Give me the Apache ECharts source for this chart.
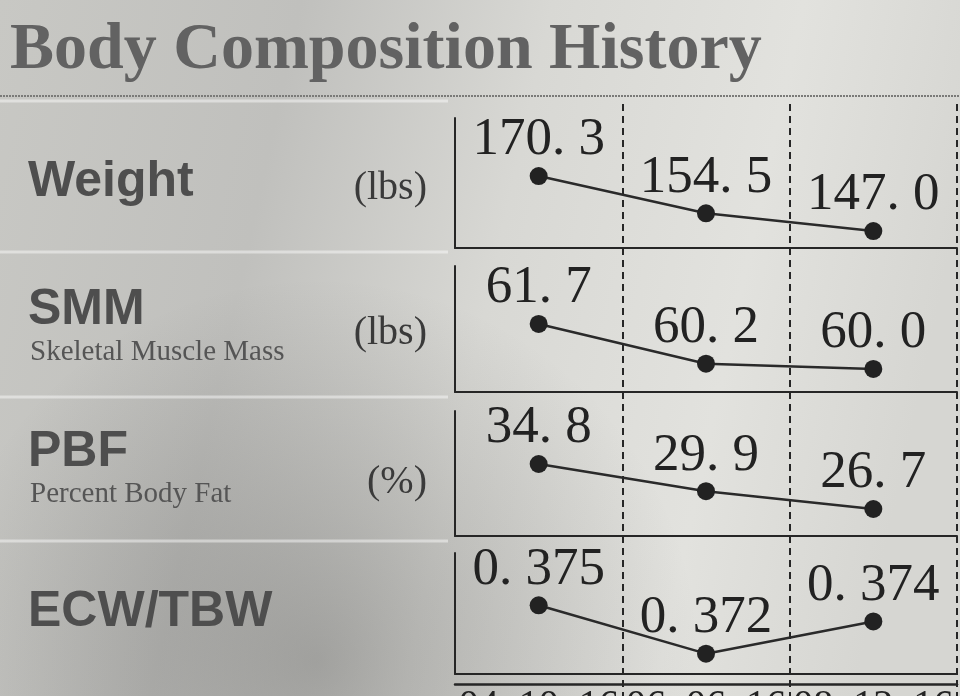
<!DOCTYPE html>
<html>
<head>
<meta charset="utf-8">
<script src="https://cdn.jsdelivr.net/npm/echarts@6/dist/echarts.min.js"></script>
<style>html,body{margin:0;padding:0;}#c{width:960px;height:696px;}</style>
</head>
<body>
<div id="c"></div>
<script>
// ---- data ----
const dates = ['04. 10. 16', '06. 06. 16', '08. 12. 16'];
const weight = [170.3, 154.5, 147.0];
const smm = [61.7, 60.2, 60.0];
const pbf = [34.8, 29.9, 26.7];
const ecwTbw = [0.375, 0.372, 0.374];
const rowNames = ['Weight', 'SMM', 'PBF', 'ECW/TBW'];
const rowSubtitles = ['', 'Skeletal Muscle Mass', 'Percent Body Fat', ''];
const rowUnits = ['(lbs)', '(lbs)', '(%)', ''];
const rowDecimals = [1, 1, 1, 3];
const rowMin = [139.8, 59.13, 21.84, 0.37074];
const rowMax = [194.9, 63.89, 44.34, 0.37824];

// ---- layout ----
const series = [weight, smm, pbf, ecwTbw];
const panels = [
  {top: 118, height: 130},
  {top: 266, height: 126},
  {top: 411, height: 125},
  {top: 553, height: 121}
];
const plotLeft = 455, plotWidth = 502;
const ink = '#262626';

const chart = echarts.init(document.getElementById('c'));

const grids = [], xAxes = [], yAxes = [], seriesList = [];
panels.forEach((p, i) => {
  grids.push({left: plotLeft, width: plotWidth, top: p.top, height: p.height});
  xAxes.push({
    type: 'category', gridIndex: i, data: dates, boundaryGap: true,
    axisLine: {show: true, onZero: false, lineStyle: {color: ink, width: 2}},
    axisTick: {show: false}, axisLabel: {show: false}, splitLine: {show: false}
  });
  yAxes.push({
    type: 'value', gridIndex: i, min: rowMin[i], max: rowMax[i],
    axisLine: {show: true, onZero: false, lineStyle: {color: ink, width: 2}},
    axisTick: {show: false}, axisLabel: {show: false}, splitLine: {show: false}
  });
  seriesList.push({
    type: 'line', xAxisIndex: i, yAxisIndex: i, data: series[i],
    symbol: 'circle', symbolSize: 18,
    itemStyle: {color: '#222'},
    lineStyle: {color: '#2a2a2a', width: 2.5},
    label: {
      show: true, position: 'top', distance: 0,
      fontFamily: 'Liberation Serif', fontSize: 53, color: '#222',
      formatter: (d) => d.value.toFixed(rowDecimals[i]).replace('.', '. ')
    },
    z: 5
  });
});

// background grid for dashed column separators
grids.push({left: plotLeft, width: plotWidth, top: 104, bottom: 0});
xAxes.push({
  type: 'category', gridIndex: 4, data: dates, boundaryGap: true,
  axisLine: {show: false}, axisTick: {show: false}, axisLabel: {show: false},
  splitLine: {show: true, showMinLine: false, lineStyle: {color: ink, width: 2, type: [7, 5]}}
});
yAxes.push({type: 'value', gridIndex: 4, show: false, min: 0, max: 1});

// date row
grids.push({left: plotLeft, width: plotWidth, top: 684, height: 40});
xAxes.push({
  type: 'category', gridIndex: 5, data: dates, position: 'top', boundaryGap: true,
  axisLine: {show: true, onZero: false, lineStyle: {color: ink, width: 2.5}},
  axisTick: {show: false}, splitLine: {show: false},
  axisLabel: {show: true, interval: 0, inside: true, margin: 2, fontFamily: 'Liberation Serif', fontSize: 40, color: '#222'}
});
yAxes.push({type: 'value', gridIndex: 5, show: false, min: 0, max: 1});

// decorations & row labels
const labelColor = '#4e4e4e';
const rowLabelY = [182, 310, 452, 612];
const subY = [0, 352, 494, 0];
const unitY = [188, 333, 482, 0];
const graphics = [
  {type: 'rect', z: -10, silent: true, shape: {x: 0, y: 0, width: 960, height: 696}, style: {
    fill: {type: 'radial', x: 0.33, y: 0.95, r: 0.55, colorStops: [
      {offset: 0, color: 'rgba(40,40,40,0.28)'}, {offset: 1, color: 'rgba(40,40,40,0)'}]}
  }},
  {type: 'text', left: 10, top: 18, style: {text: 'Body Composition History', font: 'bold 66px "Liberation Serif"', fill: '#626262'}},
  {type: 'line', shape: {x1: 0, y1: 96, x2: 960, y2: 96}, style: {stroke: '#7a7a78', lineWidth: 2, lineDash: [2, 1]}},
  {type: 'line', shape: {x1: 0, y1: 101, x2: 448, y2: 101}, style: {stroke: 'rgba(255,255,255,0.45)', lineWidth: 3}},
  {type: 'line', shape: {x1: 0, y1: 252, x2: 448, y2: 252}, style: {stroke: 'rgba(255,255,255,0.45)', lineWidth: 3}},
  {type: 'line', shape: {x1: 0, y1: 397, x2: 448, y2: 397}, style: {stroke: 'rgba(255,255,255,0.45)', lineWidth: 3}},
  {type: 'line', shape: {x1: 0, y1: 541, x2: 448, y2: 541}, style: {stroke: 'rgba(255,255,255,0.45)', lineWidth: 3}}
];
rowNames.forEach((n, i) => {
  graphics.push({type: 'text', x: 28, y: rowLabelY[i], style: {text: n, font: 'bold 50px "Liberation Sans"', fill: labelColor, verticalAlign: 'middle'}});
  if (rowSubtitles[i]) graphics.push({type: 'text', x: 30, y: subY[i], style: {text: rowSubtitles[i], font: '29px "Liberation Serif"', fill: '#555', verticalAlign: 'middle'}});
  if (rowUnits[i]) graphics.push({type: 'text', x: 427, y: unitY[i], style: {text: rowUnits[i], font: '40px "Liberation Serif"', fill: '#3a3a3a', verticalAlign: 'middle', align: 'right'}});
});

chart.setOption({
  animation: false,
  backgroundColor: {
    type: 'linear', x: 0, y: 0, x2: 1, y2: 0.3,
    colorStops: [
      {offset: 0, color: '#c8c8c4'},
      {offset: 0.3, color: '#c0c0bd'},
      {offset: 0.55, color: '#d8d8d4'},
      {offset: 0.8, color: '#e2e2de'},
      {offset: 1, color: '#d6d6d2'}
    ]
  },
  grid: grids, xAxis: xAxes, yAxis: yAxes, series: seriesList,
  graphic: graphics
});
</script>
</body>
</html>
